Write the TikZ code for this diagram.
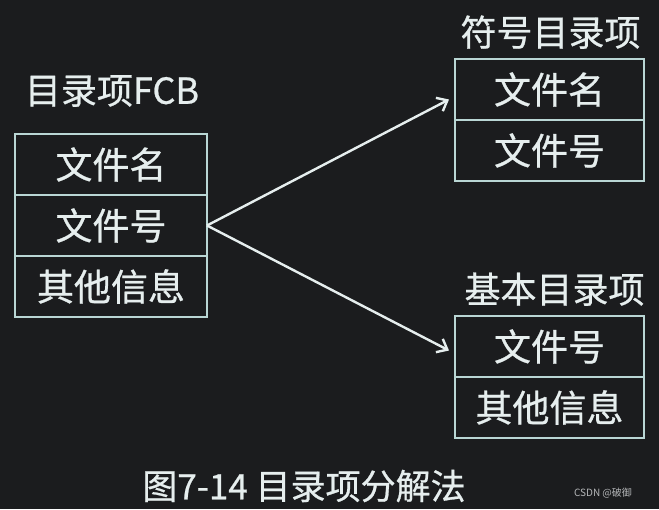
\documentclass[tikz,border=0pt]{standalone}
\usepackage{fontspec}
\newfontfamily\cjk[FakeBold=0.7]{Noto Sans CJK SC}
\newfontfamily\cjkmark{Noto Sans CJK SC}
\definecolor{SlideBg}{HTML}{1B1C1E}
\definecolor{CellLine}{HTML}{B9D6D4}
\definecolor{ChalkWhite}{HTML}{E6EEEE}
\definecolor{MarkGray}{HTML}{B4B6B8}
\usetikzlibrary{arrows.meta, positioning}

\begin{document}
\begin{tikzpicture}[
  x=1pt, y=-1pt,
  cell/.style={
    rectangle,
    draw=CellLine,
    line width=2.2pt,
    minimum width=#1,
    minimum height=61pt,
    inner sep=0pt,
    outer sep=0pt,
    text=ChalkWhite,
    font=\cjk\fontsize{37}{37}\selectfont},
  cell/.default=192pt,
  caption/.style={
    inner sep=0pt,
    text=ChalkWhite,
    font=\cjk\fontsize{#1}{#1}\selectfont},
  caption/.default=36,
  split/.style={
    draw=ChalkWhite,
    -{Straight Barb[length=9pt,width=15pt]},
    line width=2.4pt},
]

\fill[SlideBg] (0,0) rectangle (659,509);

% entry FCB
\node[cell] (fcbname) at (111,164.5) {文件名};
\node[cell, below=0pt of fcbname] (fcbno) {文件号};
\node[cell, below=0pt of fcbno] (fcbinfo) {其他信息};
\node[caption, above=27pt of fcbname, xshift=1pt] (fcbtitle) {目录项FCB};

% symbol entry
\node[cell=189pt] (symname) at (549.5,89.5) {文件名};
\node[cell=189pt, below=0pt of symname] (symno) {文件号};
\node[caption, above=10pt of symname, xshift=1pt] (symtitle) {符号目录项};

% basic entry
\node[cell=189pt] (basno) at (549.5,346.5) {文件号};
\node[cell=189pt, below=0pt of basno] (basinfo) {其他信息};
\node[caption, above=10pt of basno, xshift=5pt] (bastitle) {基本目录项};

\draw[split] (fcbno.east) -- ([xshift=-6pt,yshift=-10pt]symname.west);
\draw[split] (fcbno.east) -- ([xshift=-6pt,yshift=-4pt]basno.west);

\node[caption=35] (figcap) at (304,486) {图7-14 目录项分解法};
\node[inner sep=0pt, text=MarkGray, font=\cjkmark\fontsize{10}{10}\selectfont]
  (mark) at (603,493) {CSDN @破御};

\end{tikzpicture}
\end{document}
